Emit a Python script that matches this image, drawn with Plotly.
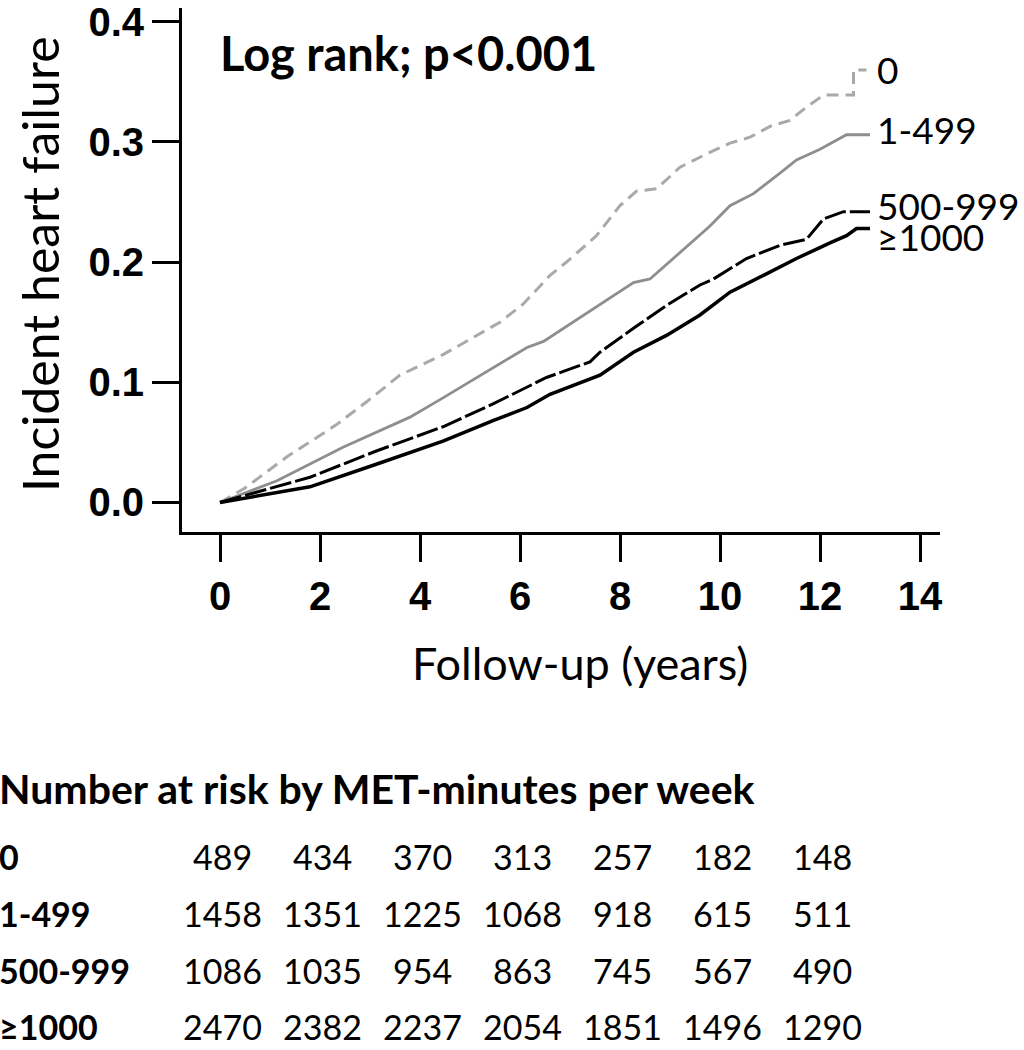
import plotly.graph_objects as go

# ---- data ----
groups = ["0", "1-499", "500-999", "≥1000"]

t_0 = [0, 0.5, 1.34, 2.34, 2.94, 3.6, 4.46, 5.14, 5.6, 6.06, 6.6, 6.93, 7.53, 8.0, 8.33, 8.73,
       9.2, 9.73, 10.2, 10.6, 11.0, 11.4, 11.73, 12.07, 12.67, 12.67, 12.93]
v_0 = [0, 0.012, 0.038, 0.065, 0.084, 0.106, 0.123, 0.139, 0.150, 0.165, 0.189, 0.200, 0.222, 0.247,
       0.259, 0.261, 0.279, 0.290, 0.299, 0.304, 0.313, 0.318, 0.329, 0.339, 0.339, 0.360, 0.360]

t_1 = [0, 1.14, 2.46, 3.8, 4.46, 5.14, 5.6, 6.14, 6.47, 7.27, 8.27, 8.6, 9.27, 9.8, 10.2, 10.67,
       11.2, 11.53, 12.0, 12.53, 13.0]
v_1 = [0, 0.018, 0.046, 0.071, 0.087, 0.104, 0.115, 0.129, 0.134, 0.156, 0.183, 0.186, 0.211, 0.230,
       0.247, 0.257, 0.274, 0.285, 0.294, 0.306, 0.306]

t_2 = [0, 1.8, 3.14, 4.46, 5.46, 6.14, 6.53, 7.4, 7.6, 8.27, 8.93, 9.6, 9.87, 10.53, 11.2, 11.73,
       12.07, 12.47, 13.0]
v_2 = [0, 0.021, 0.043, 0.063, 0.082, 0.096, 0.104, 0.117, 0.125, 0.145, 0.164, 0.181, 0.186, 0.203,
       0.214, 0.219, 0.236, 0.242, 0.242]

t_3 = [0, 1.8, 3.14, 4.46, 5.46, 6.14, 6.6, 7.6, 8.27, 8.93, 9.6, 10.2, 10.87, 11.53, 12.2, 12.53,
       12.73, 13.0]
v_3 = [0, 0.013, 0.032, 0.051, 0.068, 0.079, 0.090, 0.106, 0.125, 0.139, 0.156, 0.175, 0.189, 0.203,
       0.216, 0.222, 0.228, 0.228]

label_y = [0.360, 0.310, 0.2475, 0.221]

risk_times = [0, 2, 4, 6, 8, 10, 12]
risk_0 = [489, 434, 370, 313, 257, 182, 148]
risk_1 = [1458, 1351, 1225, 1068, 918, 615, 511]
risk_2 = [1086, 1035, 954, 863, 745, 567, 490]
risk_3 = [2470, 2382, 2237, 2054, 1851, 1496, 1290]

x_ticks = [0, 2, 4, 6, 8, 10, 12, 14]
y_ticks = [0.0, 0.1, 0.2, 0.3, 0.4]

# ---- styling ----
HUM = "Lato, 'Open Sans', sans-serif"
TICKF = "'Liberation Sans', Arial, sans-serif"

series = [
    (t_0, v_0, dict(color="#a9a9a9", width=3, dash="12px,7px")),
    (t_1, v_1, dict(color="#8e8e8e", width=2.8)),
    (t_2, v_2, dict(color="#000000", width=3, dash="22px,4px")),
    (t_3, v_3, dict(color="#000000", width=3.5)),
]

fig = go.Figure()
for (tt, vv, ln), name in zip(series, groups):
    fig.add_trace(go.Scatter(x=tt, y=vv, mode="lines", line=ln, name=name,
                             showlegend=False, hoverinfo="skip"))

W, H = 1024, 1050
ML, MR, MT, MB = 182, 84, 0, 518
plot_w = W - ML - MR
plot_h = H - MT - MB

def px_to_paper_x(px):
    return (px - ML) / plot_w

def px_to_paper_y(py):
    return (H - MB - py) / plot_h

ann = []
# curve labels
for name, ly in zip(groups, label_y):
    ann.append(dict(x=13.1, y=ly, xref="x", yref="y", text=name, showarrow=False,
                    xanchor="left", yanchor="middle", font=dict(family=HUM, size=37, color="#000")))
# log rank
ann.append(dict(x=-0.05, y=0.374, xref="x", yref="y", text="<b>Log rank; p<0.001</b>", showarrow=False,
                xanchor="left", yanchor="middle", font=dict(family=HUM, size=47, color="#000")))
# axis titles
ann.append(dict(x=px_to_paper_x(40), y=px_to_paper_y(260), xref="paper", yref="paper",
                text="Incident heart failure", textangle=-90, showarrow=False,
                xanchor="center", yanchor="middle", font=dict(family=HUM, size=50, color="#000")))
ann.append(dict(x=px_to_paper_x(580), y=px_to_paper_y(665), xref="paper", yref="paper",
                text="Follow-up (years)", showarrow=False,
                xanchor="center", yanchor="middle", font=dict(family=HUM, size=45, color="#000")))
# risk table
ann.append(dict(x=px_to_paper_x(-3), y=px_to_paper_y(792), xref="paper", yref="paper",
                text="<b>Number at risk by MET-minutes per week</b>", showarrow=False,
                xanchor="left", yanchor="middle", font=dict(family=HUM, size=41, color="#000")))
row_px = [861, 919, 977, 1034]
for name, rows, rp in zip(groups, [risk_0, risk_1, risk_2, risk_3], row_px):
    ann.append(dict(x=px_to_paper_x(-3), y=px_to_paper_y(rp), xref="paper", yref="paper",
                    text="<b>" + name + "</b>", showarrow=False, xanchor="left", yanchor="middle",
                    font=dict(family=HUM, size=34, color="#000")))
    for t, n in zip(risk_times, rows):
        ann.append(dict(x=t, y=px_to_paper_y(rp), xref="x", yref="paper", text=str(n),
                        showarrow=False, xanchor="center", yanchor="middle", xshift=2,
                        font=dict(family=HUM, size=34, color="#000")))

fig.update_layout(
    width=W, height=H, margin=dict(l=ML, r=MR, t=MT, b=MB, pad=0),
    paper_bgcolor="white", plot_bgcolor="white",
    annotations=ann,
    xaxis=dict(range=[-0.76, 14.4], tickvals=x_ticks, ticktext=[str(v) for v in x_ticks],
               showgrid=False, zeroline=False, showline=True, linecolor="#000", linewidth=3,
               ticks="outside", ticklen=27, tickwidth=3, tickcolor="#000",
               tickfont=dict(family=TICKF, size=40, color="#000", weight="bold")),
    yaxis=dict(range=[-0.0246, 0.4115], tickvals=y_ticks, tickformat=".1f",
               showgrid=False, zeroline=False, showline=True, linecolor="#000", linewidth=3,
               ticks="outside", ticklen=27, tickwidth=3, tickcolor="#000",
               ticklabeloverflow="allow",
               tickfont=dict(family=TICKF, size=40, color="#000", weight="bold")),
)

fig.write_html("out.html", post_script="document.body.style.margin='0';",
               config={"displayModeBar": False})
